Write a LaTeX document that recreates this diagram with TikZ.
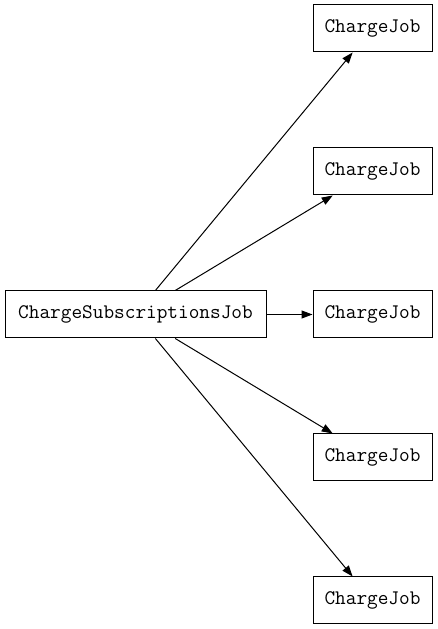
\documentclass[tikz,border=0pt]{standalone}
\usetikzlibrary{arrows.meta, positioning}
\tikzset{
  job/.style  = {draw, line width=1pt, font=\fontsize{20.7}{22}\selectfont\ttfamily,
                 minimum height=47pt, inner sep=0pt},
  main/.style = {job, minimum width=261pt},
  sub/.style  = {job, minimum width=119pt},
  sig/.style  = {-{Triangle[length=11pt, width=8pt]}, line width=1pt},
}

\begin{document}
\begin{tikzpicture}[x=1pt, y=1pt]
\useasboundingbox (0,0) rectangle (438,629);

% =========================================================================
% Jobs
% =========================================================================
\node[main] (subs) at (135.5,314.5) {ChargeSubscriptionsJob};

\foreach \n/\y in {1/600.5, 2/457.5, 3/314.5, 4/171.5, 5/28.5}
  \node[sub] (charge\n) at (372.5,\y) {ChargeJob};

% =========================================================================
% Edges
% =========================================================================
\foreach \n in {1,...,5}
  \draw[sig] (subs) -- (charge\n);

\end{tikzpicture}
\end{document}
